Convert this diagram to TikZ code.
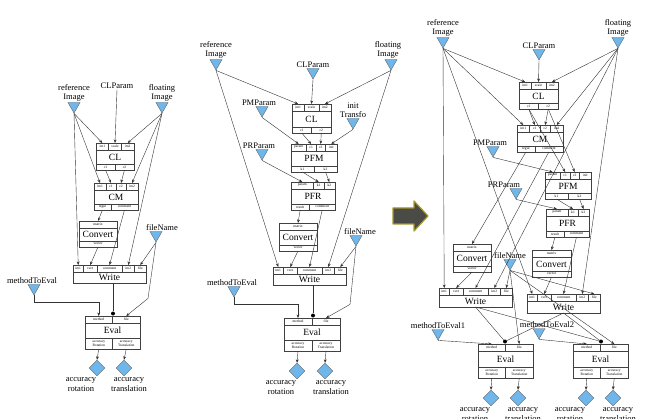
\documentclass[tikz,border=0pt]{standalone}
\usepackage{fontspec}
\setmainfont{Liberation Serif}
\usetikzlibrary{positioning,shapes.geometric,arrows.meta}
\definecolor{inblue}{RGB}{111,182,234}
\definecolor{arrowgray}{RGB}{74,74,70}
\definecolor{arrowrim}{RGB}{165,150,45}

\tikzset{
  lbl/.style={font=\fontsize{8.5}{9.5}\selectfont, align=center, inner sep=0.5pt},
  portlbl/.style={font=\fontsize{3.6}{4.1}\selectfont, align=center, inner sep=0pt},
  blocktitle/.style={font=\fontsize{9.5}{10}\selectfont, inner sep=0pt},
  blockbox/.style={draw=black!75, line width=0.5pt, inner sep=0pt, outer sep=0pt},
  boxline/.style={draw=black!75, line width=0.4pt},
  intri/.style={regular polygon, regular polygon sides=3, shape border rotate=180, minimum size=14pt, inner sep=0pt, fill=inblue, draw=black!60, line width=0.4pt},
  outdia/.style={diamond, minimum width=16pt, minimum height=16pt, inner sep=0pt, fill=inblue, draw=black!60, line width=0.4pt},
  jdot/.style={circle, fill=black, inner sep=0pt, minimum size=4pt},
  link/.style={draw=black!80, line width=0.4pt, -{Stealth[length=3.5pt,width=2.8pt]}},
  wire/.style={draw=black!80, line width=0.4pt},
  bigarrow/.style={fill=arrowgray, draw=arrowrim, line width=1.2pt, line join=round}
}

% port row: prefix, x left, x right, row top, row height, y of anchors, list label/weight
\newcommand{\ports}[7]{%
  \gdef\ptot{0}%
  \foreach \pl/\pwt in {#7}{\pgfmathsetmacro\ptmp{\ptot+\pwt}\xdef\ptot{\ptmp}}%
  \gdef\pcum{0}%
  \foreach \pl/\pwt [count=\pn] in {#7}{%
    \pgfmathsetmacro\xa{#2+(#3-#2)*\pcum/\ptot}%
    \pgfmathsetmacro\xm{#2+(#3-#2)*(\pcum+\pwt/2)/\ptot}%
    \ifnum\pn>1 \draw[boxline] (\xa,#4) -- ++(0,#5);\fi
    \node[portlbl] (#1\pn-l) at (\xm,#4+#5/2) {\pl};
    \coordinate (#1\pn) at (\xm,#6);
    \pgfmathsetmacro\ptmp{\pcum+\pwt}\xdef\pcum{\ptmp}}%
}
% block: name, x1, y1, x2, y2, title, top ports, bottom ports, bottom row height
\newcommand{\mkblock}[9]{%
  \pgfmathsetmacro\bw{#4-#2}\pgfmathsetmacro\bh{#5-#3}%
  \node[blockbox, minimum width=\bw pt, minimum height=\bh pt] (#1) at ({(#2+#4)/2},{(#3+#5)/2}) {};
  \draw[boxline] (#2,#3+7) -- (#4,#3+7);
  \ports{#1-t}{#2}{#4}{#3}{7}{#3}{#7}%
  \ifdim #9pt>0pt
    \draw[boxline] (#2,#5-#9) -- (#4,#5-#9);
    \ports{#1-b}{#2}{#4}{#5-#9}{#9}{#5}{#8}%
  \fi
  \node[blocktitle] (#1-n) at ({(#2+#4)/2},{(#3+7+#5-#9)/2}) {#6};
}

\begin{document}
\begin{tikzpicture}[x=1pt,y=-1pt]
    \useasboundingbox (0,0) rectangle (647,419);
    % ---------- first chain
    % inputs
    \node[lbl] (clp1) at (117,86) {CLParam};
    \node[intri] (ri1) at (74,106) {};\node[lbl, above=0pt of ri1] (ri1-l) {reference\\Image};
    \node[intri] (fi1) at (162,106) {};\node[lbl, above=0pt of fi1] (fi1-l) {floating\\Image};
    \node[intri] (fn1) at (156,235) {};\node[lbl, above=0pt of fn1, xshift=6pt] (fn1-l) {fileName};
    \node[intri] (me1) at (34,288) {};\node[lbl, above=0pt of me1, xshift=-2pt] (me1-l) {methodToEval};
    % blocks
    \mkblock{cl1}{96}{143}{134}{170}{CL}{im1/1,scale/1,im2/1}{c1/1,c2/1}{6}
    \mkblock{cm1}{94}{183}{138}{210}{CM}{im1/1.2,c1/1,c2/1,im2/1.2}{regul/1,comment/1.6}{6}
    \mkblock{cv1}{79}{221}{117}{247}{Convert}{matrix/1}{vector/1}{6}
    \mkblock{wr1}{73}{265}{146}{283}{Write}{im1/10,vect/13,comment/24,im2/12,file/11}{}{0}
    \mkblock{ev1}{85}{316}{140}{349}{Eval}{method/1,file/1}{{accuracy\\Rotation}/1,{accuracy\\Translation}/1}{11}
    % outputs
    \node[jdot] (d1) at (113,313.5) {};
    \node[outdia] (o1a) at (97,368) {};\node[lbl, below=1pt of o1a, xshift=-16pt] (o1a-l) {accuracy\\rotation};
    \node[outdia] (o1b) at (124,368) {};\node[lbl, below=1pt of o1b, xshift=5pt] (o1b-l) {accuracy\\translation};
    % links
    \draw[link] (ri1.south) -- (cl1-t1);\draw[link] (ri1.south) -- (cm1-t1);\draw[link] (ri1.south) -- (wr1-t1);
    \draw[link] (clp1.south) -- (cl1-t2);
    \draw[link] (fi1.south) -- (cl1-t3);\draw[link] (fi1.south) -- (cm1-t4);\draw[link] (fi1.south) -- (wr1-t4);
    \draw[link] (cl1-b1) -- (cm1-t2);\draw[link] (cl1-b2) -- (cm1-t3);
    \draw[link] (cm1-b1) -- (cv1-t1);\draw[link] (cm1-b2) -- (wr1-t3);\draw[link] (cv1-b1) -- (wr1-t2);
    \draw[link] (fn1.south) -- (wr1-t5);\draw[link] (fn1.south) -- ++(-8,56) -- (ev1-t2);
    \draw[wire] (wr1.south -| d1) -- (d1);
    \draw[link] (me1.south) -- ++(0,7) -| (ev1-t1);
    \draw[link] (ev1-b1) -- (o1a.north);\draw[link] (ev1-b2) -- (o1b.north);

    % ---------- second chain
    % inputs
    \node[intri] (ri2) at (216,63) {};\node[lbl, above=0pt of ri2] (ri2-l) {reference\\Image};
    \node[intri] (clp2) at (313,72) {};\node[lbl, above=0pt of clp2] (clp2-l) {CLParam};
    \node[intri] (fi2) at (391,63) {};\node[lbl, above=0pt of fi2, xshift=-3pt] (fi2-l) {floating\\Image};
    \node[intri] (pm2) at (262,110) {};\node[lbl, above=0pt of pm2, xshift=-3pt] (pm2-l) {PMParam};
    \node[intri] (it2) at (353,122) {};\node[lbl, above=0pt of it2] (it2-l) {init\\Transfo};
    \node[intri] (pr2) at (262,153) {};\node[lbl, above=0pt of pr2, xshift=-3pt] (pr2-l) {PRParam};
    \node[intri] (fn2) at (356,239) {};\node[lbl, above=0pt of fn2, xshift=4pt] (fn2-l) {fileName};
    \node[intri] (me2) at (234,290) {};\node[lbl, above=0pt of me2, xshift=-2pt] (me2-l) {methodToEval};
    % blocks
    \mkblock{cl2}{292}{104}{331}{133}{CL}{im1/1,scale/1.2,im2/1}{c1/1,c2/1}{6}
    \mkblock{pfm2}{291}{144}{337}{172}{PFM}{param/1.6,c1/1,c2/1,init/1.2}{k1/1,k2/1}{6}
    \mkblock{pfr2}{291}{182}{335}{210}{PFR}{param/2.2,k1/1,k2/1.1}{result/1,comment/1.4}{6}
    \mkblock{cv2}{279}{223}{317}{251}{Convert}{matrix/1}{vector/1}{6}
    \mkblock{wr2}{273}{267}{346}{285}{Write}{im1/10,vect/13,comment/24,im2/12,file/11}{}{0}
    \mkblock{ev2}{284}{318}{340}{351}{Eval}{method/1,file/1}{{accuracy\\Rotation}/1,{accuracy\\Translation}/1}{11}
    % outputs
    \node[jdot] (d2) at (313,315.5) {};
    \node[outdia] (o2a) at (297,371) {};\node[lbl, below=1pt of o2a, xshift=-16pt] (o2a-l) {accuracy\\rotation};
    \node[outdia] (o2b) at (325,371) {};\node[lbl, below=1pt of o2b, xshift=6pt] (o2b-l) {accuracy\\translation};
    % links
    \draw[link] (ri2.south) -- (cl2-t1);\draw[link] (ri2.south) -- (wr2-t1);
    \draw[link] (clp2.south) -- (cl2-t2);
    \draw[link] (fi2.south) -- (cl2-t3);\draw[link] (fi2.south) -- (wr2-t4);
    \draw[link] (pm2.south) -- (pfm2-t1);\draw[link] (cl2-b1) -- (pfm2-t2);\draw[link] (cl2-b2) -- (pfm2-t3);\draw[link] (it2.south) -- (pfm2-t4);
    \draw[link] (pr2.south) -- (pfr2-t1);\draw[link] (pfm2-b1) -- (pfr2-t2);\draw[link] (pfm2-b2) -- (pfr2-t3);
    \draw[link] (pfr2-b1) -- (cv2-t1);\draw[link] (pfr2-b2) -- (wr2-t3);\draw[link] (cv2-b1) -- (wr2-t2);
    \draw[link] (fn2.south) -- (wr2-t5);\draw[link] (fn2.south) -- ++(-6,58) -- (ev2-t2);
    \draw[wire] (wr2.south -| d2) -- (d2);
    \draw[link] (me2.south) -- ++(0,7) -| (ev2-t1);
    \draw[link] (ev2-b1) -- (o2a.north);\draw[link] (ev2-b2) -- (o2b.north);

    % ---------- big arrow
    \draw[bigarrow] (393,208) -- (414,208) -- (414,201) -- (428,216) -- (414,231) -- (414,224) -- (393,224) -- cycle;

    % ---------- merged chain
    % inputs
    \node[intri] (ri3) at (443,41) {};\node[lbl, above=0pt of ri3] (ri3-l) {reference\\Image};
    \node[intri] (clp3) at (539,53) {};\node[lbl, above=0pt of clp3] (clp3-l) {CLParam};
    \node[intri] (fi3) at (618,41) {};\node[lbl, above=0pt of fi3] (fi3-l) {floating\\Image};
    \node[intri] (pm3) at (493,150) {};\node[lbl, above=0pt of pm3, xshift=-3pt] (pm3-l) {PMParam};
    \node[intri] (pr3) at (516,192) {};\node[lbl, above=0pt of pr3, xshift=-12pt] (pr3-l) {PRParam};
    \node[intri] (fn3) at (510,263) {};\node[lbl, above=0pt of fn3] (fn3-l) {fileName};
    \node[intri] (me3a) at (438,333) {};\node[lbl, above=0pt of me3a] (me3a-l) {methodToEval1};
    \node[intri] (me3b) at (539,332) {};\node[lbl, above=0pt of me3b, xshift=8pt] (me3b-l) {methodToEval2};
    % blocks
    \mkblock{cl3}{519}{82}{558}{109}{CL}{im1/1,scale/1.2,im2/1}{c1/1,c2/1}{6}
    \mkblock{cm3}{517}{125}{563}{152}{CM}{im1/1.2,c1/1,c2/1,im2/1.2}{regul/1,comment/1.6}{6}
    \mkblock{pfm3}{545}{172}{591}{199}{PFM}{param/1.6,c1/1,c2/1,init/1.2}{k1/1,k2/1}{6}
    \mkblock{pfr3}{546}{209}{589}{237}{PFR}{param/2.2,k1/1,k2/1.1}{result/1,comment/1.4}{6}
    \mkblock{cv3a}{453}{244}{491}{272}{Convert}{matrix/1}{vector/1}{6}
    \mkblock{cv3b}{532}{250}{571}{277}{Convert}{matrix/1}{vector/1}{6}
    \mkblock{wr3a}{439}{288}{512}{307}{Write}{im1/10,vect/13,comment/24,im2/12,file/11}{}{0}
    \mkblock{wr3b}{527}{294}{600}{313}{Write}{im1/10,vect/13,comment/24,im2/12,file/11}{}{0}
    \mkblock{ev3a}{478}{344}{533}{378}{Eval}{method/1,file/1}{{accuracy\\Rotation}/1,{accuracy\\Translation}/1}{11}
    \mkblock{ev3b}{573}{344}{628}{378}{Eval}{method/1,file/1}{{accuracy\\Rotation}/1,{accuracy\\Translation}/1}{11}
    % outputs
    \node[jdot] (d3a) at (505,341.5) {};\node[jdot] (d3b) at (601,341.5) {};
    \node[outdia] (o3a) at (491,398) {};\node[lbl, below=1pt of o3a, xshift=-16pt] (o3a-l) {accuracy\\rotation};
    \node[outdia] (o3b) at (518,398) {};\node[lbl, below=1pt of o3b, xshift=5pt] (o3b-l) {accuracy\\translation};
    \node[outdia] (o3c) at (586,398) {};\node[lbl, below=1pt of o3c, xshift=-16pt] (o3c-l) {accuracy\\rotation};
    \node[outdia] (o3d) at (613,398) {};\node[lbl, below=1pt of o3d, xshift=5pt] (o3d-l) {accuracy\\translation};
    % links
    \draw[link] (ri3.south) -- (cl3-t1);\draw[link] (ri3.south) -- (cm3-t1);\draw[link] (ri3.south) -- (wr3a-t1);\draw[link] (ri3.south) -- (wr3b-t1);
    \draw[link] (clp3.south) -- (cl3-t2);
    \draw[link] (fi3.south) -- (cl3-t3);\draw[link] (fi3.south) -- (cm3-t4);\draw[link] (fi3.south) -- (wr3a-t4);\draw[link] (fi3.south) -- (wr3b-t4);
    \draw[link] (cl3-b1) -- (cm3-t2);\draw[link] (cl3-b2) -- (cm3-t3);
    \draw[link] (cl3-b1) -- (pfm3-t2);\draw[link] (cl3-b2) -- (pfm3-t3);\draw[link] (pm3.south) -- (pfm3-t1);
    \draw[link] (pr3.south) -- (pfr3-t1);\draw[link] (pfm3-b1) -- (pfr3-t2);\draw[link] (pfm3-b2) -- (pfr3-t3);
    \draw[link] (cm3-b1) -- (cv3a-t1);\draw[link] (cm3-b2) -- (wr3a-t3);\draw[link] (cv3a-b1) -- (wr3a-t2);
    \draw[link] (pfr3-b1) -- (cv3b-t1);\draw[link] (pfr3-b2) -- (wr3b-t3);\draw[link] (cv3b-b1) -- (wr3b-t2);
    \draw[link] (fn3.south) -- (wr3a-t5);\draw[link] (fn3.south) -- (wr3b-t5);\draw[link] (fn3.south) -- (ev3a-t2);\draw[link] (fn3.south) -- (ev3b-t2);
    \draw[wire] (wr3a.south) -- (d3a);\draw[wire] (wr3a.south) -- (d3b);\draw[wire] (wr3b.south) -- (d3a);\draw[wire] (wr3b.south) -- (d3b);
    \draw[link] (me3a.south) -- (ev3a-t1);\draw[link] (me3b.south) -- (ev3b-t1);
    \draw[link] (ev3a-b1) -- (o3a.north);\draw[link] (ev3a-b2) -- (o3b.north);
    \draw[link] (ev3b-b1) -- (o3c.north);\draw[link] (ev3b-b2) -- (o3d.north);
\end{tikzpicture}
\end{document}
